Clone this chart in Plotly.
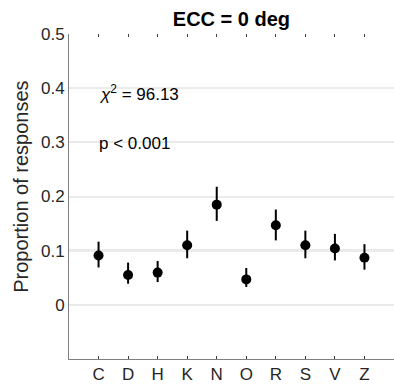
import plotly.graph_objects as go

# Response proportions per letter with confidence bounds
letters = ["C", "D", "H", "K", "N", "O", "R", "S", "V", "Z"]
proportion = [0.091, 0.055, 0.0595, 0.110, 0.185, 0.047, 0.147, 0.110, 0.104, 0.087]
ci_upper = [0.1166, 0.078, 0.081, 0.137, 0.218, 0.068, 0.176, 0.137, 0.131, 0.112]
ci_lower = [0.069, 0.039, 0.042, 0.086, 0.155, 0.033, 0.119, 0.086, 0.082, 0.065]
chance_level = 0.1
chi2_value = 96.13
p_text = "p < 0.001"
y_ticks = [0, 0.1, 0.2, 0.3, 0.4, 0.5]
y_tick_text = ["0", "0.1", "0.2", "0.3", "0.4", "0.5"]

x_pos = list(range(1, len(letters) + 1))
err_plus = [u - p for u, p in zip(ci_upper, proportion)]
err_minus = [p - l for p, l in zip(proportion, ci_lower)]

FONT = "Liberation Sans, Arial, Helvetica, sans-serif"
TXT = "#262626"

fig = go.Figure()
fig.add_trace(go.Scatter(
    x=x_pos, y=proportion, mode="markers",
    marker=dict(color="black", size=10),
    error_y=dict(type="data", symmetric=False, array=err_plus, arrayminus=err_minus,
                 color="black", thickness=2, width=0),
    showlegend=False,
))
# empty trace that activates the top tick axis
fig.add_trace(go.Scatter(x=[1], y=[None], xaxis="x2", mode="markers",
                         showlegend=False, hoverinfo="skip"))

# chance level reference line
fig.add_shape(type="line", xref="paper", x0=0, x1=1, yref="y", y0=chance_level, y1=chance_level,
              line=dict(color="#a8a8a8", width=2), layer="below")

fig.add_annotation(x=0.95, y=0.392, xref="x", yref="y", xanchor="left", yanchor="middle",
                   text="<i>χ</i><sup>2</sup> = %.2f" % chi2_value, showarrow=False,
                   font=dict(family=FONT, size=17, color="black"))
fig.add_annotation(x=0.95, y=0.297, xref="x", yref="y", xanchor="left", yanchor="middle",
                   text=p_text, showarrow=False,
                   font=dict(family=FONT, size=17, color="black"))

# y-axis label
fig.add_annotation(x=0, xref="paper", xshift=-48, xanchor="center",
                   y=0.53, yref="paper", yanchor="middle", textangle=-90,
                   text="Proportion of responses", showarrow=False,
                   font=dict(family=FONT, size=20, color=TXT))

fig.update_layout(
    width=394, height=388,
    margin=dict(l=69, r=0, t=34, b=29),
    paper_bgcolor="white", plot_bgcolor="white",
    font=dict(family=FONT, size=17, color=TXT),
    title=dict(text="<b>ECC = 0 deg</b>", x=0.5875, xanchor="center",
               y=0.952, yanchor="middle", yref="container",
               font=dict(family=FONT, size=20, color="black")),
    xaxis=dict(range=[0, 11], tickvals=x_pos, ticktext=letters, showgrid=False,
               zeroline=False, showline=True, linecolor="#7f7f7f", linewidth=1,
               ticks="inside", ticklen=3, tickcolor="#404040", tickwidth=1,
               tickfont=dict(size=17, color=TXT)),
    xaxis2=dict(range=[0, 11], tickvals=x_pos, overlaying="x", side="top",
                showticklabels=False, showgrid=False, zeroline=False, showline=False,
                ticks="inside", ticklen=3, tickcolor="#404040", tickwidth=1),
    yaxis=dict(range=[-0.1, 0.5], tickvals=y_ticks, ticktext=y_tick_text,
               showgrid=True, gridcolor="#ebebeb", gridwidth=2, zeroline=False,
               showline=True, linecolor="#7f7f7f", linewidth=1, ticks="",
               tickfont=dict(size=17, color=TXT)),
)

fig.write_html("out.html")
